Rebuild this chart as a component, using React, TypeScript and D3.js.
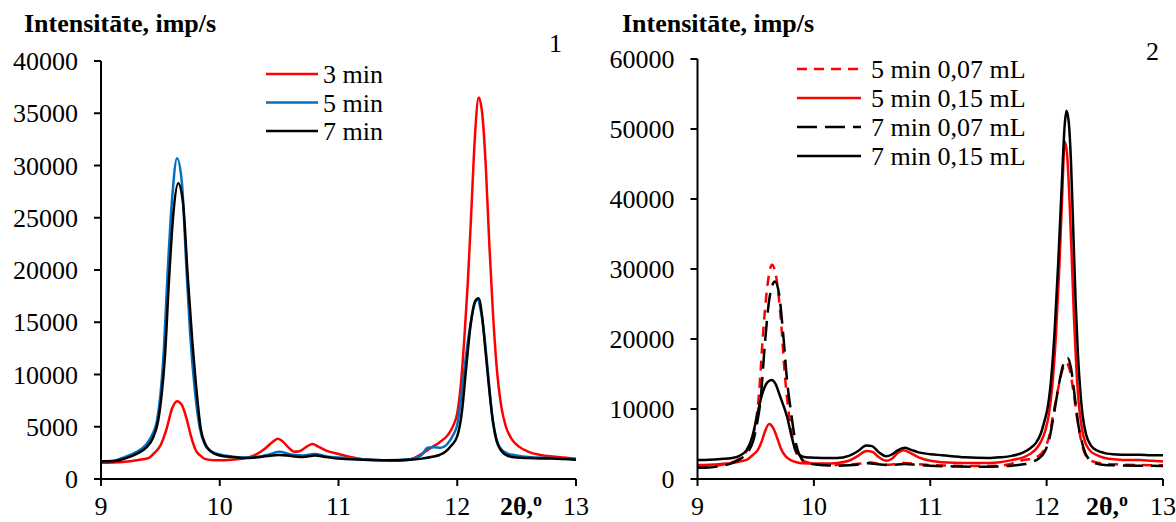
import React from "react";
import * as d3 from "d3";

type P = [number, number];

// Panel 1 series
const p1Red3: P[] = [[9.0,1550],[9.1,1580],[9.2,1650],[9.3,1800],[9.4,2000],[9.45,2500],[9.5,3200],[9.55,4700],[9.6,6800],[9.64,7450],[9.68,7100],[9.72,5800],[9.76,4000],[9.8,2700],[9.83,2300],[9.88,1900],[9.95,1800],[10.0,1800],[10.1,1850],[10.2,1950],[10.3,2300],[10.38,2900],[10.44,3500],[10.49,3850],[10.53,3600],[10.58,3000],[10.63,2600],[10.67,2650],[10.72,3000],[10.78,3350],[10.83,3100],[10.9,2700],[11.0,2400],[11.1,2100],[11.2,1900],[11.35,1800],[11.5,1750],[11.6,1850],[11.7,2400],[11.78,3000],[11.85,3500],[11.92,4200],[11.97,5200],[12.0,6300],[12.03,9000],[12.06,13500],[12.09,19000],[12.12,26000],[12.15,33000],[12.18,36500],[12.21,35000],[12.24,30000],[12.27,22500],[12.3,16000],[12.33,11000],[12.37,7000],[12.41,5000],[12.46,3800],[12.52,3100],[12.6,2600],[12.7,2300],[12.8,2150],[12.9,2050],[13.0,1950]];
const p1Blue5: P[] = [[9.0,1700],[9.1,1750],[9.2,2100],[9.3,2600],[9.38,3300],[9.43,4200],[9.47,5500],[9.5,8000],[9.53,12500],[9.56,19500],[9.6,27000],[9.64,30700],[9.68,28500],[9.72,20000],[9.75,14000],[9.79,8500],[9.83,5000],[9.87,3400],[9.92,2700],[10.0,2350],[10.1,2150],[10.2,2050],[10.3,2100],[10.4,2300],[10.5,2600],[10.6,2350],[10.7,2250],[10.8,2400],[10.9,2150],[11.0,2050],[11.2,1900],[11.4,1800],[11.6,1900],[11.7,2300],[11.75,3000],[11.8,3050],[11.86,3000],[11.92,3400],[11.97,4300],[12.0,5200],[12.03,7500],[12.06,10500],[12.1,14000],[12.14,16500],[12.17,17200],[12.2,16000],[12.23,13500],[12.26,10000],[12.29,6500],[12.32,4300],[12.36,3000],[12.42,2450],[12.5,2250],[12.6,2100],[12.8,2000],[13.0,1900]];
const p1Black7: P[] = [[9.0,1700],[9.1,1700],[9.2,1950],[9.3,2400],[9.38,3000],[9.44,4000],[9.48,5500],[9.51,8000],[9.54,12000],[9.57,18500],[9.61,25500],[9.65,28300],[9.69,26500],[9.73,19500],[9.77,13000],[9.8,9000],[9.84,4800],[9.88,3300],[9.93,2600],[10.0,2250],[10.1,2100],[10.2,2000],[10.3,2050],[10.4,2200],[10.5,2300],[10.6,2200],[10.7,2100],[10.8,2250],[10.9,2100],[11.0,1950],[11.2,1850],[11.4,1800],[11.6,1850],[11.7,1950],[11.8,2150],[11.85,2300],[11.9,2600],[11.95,3200],[12.0,4100],[12.04,6500],[12.07,10000],[12.11,14500],[12.15,17000],[12.18,17300],[12.21,15500],[12.24,12000],[12.27,8500],[12.3,5500],[12.33,3700],[12.37,2700],[12.43,2200],[12.5,2050],[12.6,2000],[12.8,1950],[13.0,1850]];

// Panel 2 series
const p2Red5_007: P[] = [[9.0,1800],[9.1,1850],[9.2,2000],[9.3,2400],[9.38,3200],[9.43,4200],[9.47,5800],[9.5,8000],[9.53,12500],[9.56,20000],[9.6,27500],[9.64,30600],[9.68,28500],[9.72,22000],[9.75,15000],[9.78,10000],[9.82,5500],[9.86,3300],[9.92,2500],[10.0,2200],[10.1,2050],[10.2,2000],[10.3,2050],[10.4,2200],[10.47,2400],[10.55,2200],[10.65,2050],[10.78,2300],[10.9,2100],[11.0,2000],[11.2,1900],[11.4,1850],[11.6,1900],[11.7,2200],[11.8,2700],[11.87,2900],[11.93,3300],[11.98,4200],[12.02,6000],[12.06,9500],[12.1,13000],[12.14,15800],[12.17,16600],[12.2,15500],[12.23,12500],[12.26,9000],[12.29,6000],[12.32,4000],[12.36,2900],[12.42,2400],[12.5,2200],[12.6,2100],[12.8,2000],[13.0,1950]];
const p2Red5_015: P[] = [[9.0,2000],[9.1,2050],[9.2,2150],[9.3,2300],[9.38,2550],[9.43,2800],[9.48,3500],[9.52,4200],[9.55,5300],[9.58,6800],[9.615,7850],[9.65,7300],[9.69,5600],[9.72,4200],[9.76,3200],[9.8,2700],[9.85,2400],[9.9,2250],[10.0,2200],[10.1,2200],[10.2,2300],[10.3,2600],[10.38,3300],[10.45,4000],[10.5,3900],[10.56,3100],[10.62,2600],[10.67,2900],[10.72,3700],[10.77,4100],[10.82,3800],[10.9,3100],[11.0,2600],[11.1,2400],[11.3,2300],[11.5,2300],[11.6,2400],[11.7,2700],[11.8,3100],[11.86,3600],[11.91,4300],[11.95,5300],[11.99,7000],[12.02,9300],[12.05,13500],[12.08,20500],[12.11,30500],[12.135,41000],[12.155,48200],[12.175,46500],[12.195,40500],[12.215,32000],[12.235,23000],[12.255,16000],[12.275,11000],[12.3,7500],[12.33,5300],[12.37,4100],[12.42,3500],[12.5,3000],[12.6,2800],[12.7,2700],[12.8,2700],[12.9,2600],[13.0,2500]];
const p2Black7_007: P[] = [[9.0,1600],[9.1,1650],[9.2,1850],[9.3,2300],[9.38,3000],[9.44,4000],[9.48,5500],[9.51,7800],[9.54,11000],[9.58,19500],[9.62,26000],[9.665,28200],[9.7,26500],[9.74,20000],[9.77,14000],[9.8,10000],[9.84,5500],[9.88,3300],[9.93,2400],[10.0,2100],[10.1,1950],[10.2,1900],[10.3,1950],[10.4,2100],[10.47,2250],[10.55,2100],[10.65,2000],[10.78,2150],[10.9,2000],[11.0,1900],[11.2,1800],[11.4,1750],[11.6,1800],[11.7,1900],[11.8,2100],[11.87,2400],[11.93,2900],[11.98,3800],[12.02,5500],[12.06,9000],[12.1,13000],[12.14,16200],[12.18,17300],[12.21,15800],[12.24,12000],[12.27,8000],[12.3,5500],[12.33,3800],[12.37,2700],[12.43,2200],[12.5,2000],[12.6,1950],[12.8,1900],[13.0,1850]];
const p2Black7_015: P[] = [[9.0,2700],[9.1,2750],[9.2,2850],[9.3,3000],[9.37,3400],[9.42,4100],[9.47,6000],[9.51,8900],[9.55,11800],[9.6,13800],[9.637,14150],[9.67,13600],[9.71,11800],[9.77,8860],[9.81,6000],[9.84,4200],[9.88,3400],[9.93,3100],[10.0,3050],[10.1,3000],[10.2,3000],[10.3,3300],[10.38,4000],[10.45,4800],[10.5,4700],[10.56,3800],[10.62,3250],[10.67,3500],[10.72,4100],[10.78,4450],[10.83,4200],[10.9,3800],[11.0,3550],[11.1,3400],[11.3,3100],[11.5,3000],[11.6,3100],[11.7,3300],[11.8,3800],[11.86,4400],[11.91,5200],[11.95,6500],[11.98,8200],[12.01,10300],[12.04,14500],[12.07,21500],[12.1,31000],[12.13,42000],[12.155,50500],[12.17,52600],[12.19,51000],[12.21,45000],[12.23,35000],[12.25,25000],[12.27,17500],[12.29,12500],[12.31,9000],[12.34,6300],[12.38,4800],[12.43,4100],[12.5,3700],[12.6,3500],[12.7,3450],[12.8,3450],[12.9,3400],[13.0,3400]];

const xTicks = [9, 10, 11, 12, 13];
const y1Ticks = [0, 5000, 10000, 15000, 20000, 25000, 30000, 35000, 40000];
const y2Ticks = [0, 10000, 20000, 30000, 40000, 50000, 60000];
const legend1 = ["3 min", "5 min", "7 min"];
const legend2 = ["5 min 0,07 mL", "5 min 0,15 mL", "7 min 0,07 mL", "7 min 0,15 mL"];

const FONT = "'Liberation Serif', 'Times New Roman', serif";
const RED = "#FF0000";
const BLUE = "#0070C0";
const LW = 2.5;
const FS = 26;
const XLAB_Y = 515;

interface Series { data: P[]; color: string; dash?: string; }

function Panel(props: {
  x0: number; x1: number; yTop: number; yMax: number; yTicks: number[];
  series: Series[]; legend: string[]; legX: number; legY: number; legStep: number; legLen: number; legGap: number;
  title: string; titleX: number; num: string; numX: number; numY: number; thetaX: number;
}) {
  const x = d3.scaleLinear().domain([9, 13]).range([props.x0, props.x1]);
  const y = d3.scaleLinear().domain([0, props.yMax]).range([479, props.yTop]);
  const line = d3.line<P>().x(d => x(d[0])).y(d => y(d[1])).curve(d3.curveMonotoneX);
  const y0 = y(0);
  return (
    <g>
      {props.series.map((s, i) => (
        <path key={i} d={line(s.data) || ""} fill="none" stroke={s.color} strokeWidth={LW}
          strokeDasharray={s.dash} strokeLinejoin="round" />
      ))}
      <line x1={props.x0} x2={props.x0} y1={y0} y2={props.yTop} stroke="#000" strokeWidth={2} />
      <line x1={props.x0} x2={props.x1} y1={y0} y2={y0} stroke="#000" strokeWidth={2} />
      {props.yTicks.map(t => (
        <g key={t}>
          <line x1={props.x0 - 7} x2={props.x0} y1={y(t)} y2={y(t)} stroke="#000" strokeWidth={2} />
          <text x={props.x0 - 23} y={y(t)} dy="0.35em" textAnchor="end" fontSize={FS} fontFamily={FONT}>{t}</text>
        </g>
      ))}
      {xTicks.map(t => (
        <g key={t}>
          <line x1={x(t)} x2={x(t)} y1={y0} y2={y0 + 7} stroke="#000" strokeWidth={2} />
          <text x={x(t)} y={XLAB_Y} textAnchor="middle" fontSize={FS} fontFamily={FONT}>{t}</text>
        </g>
      ))}
      <text x={props.thetaX} y={XLAB_Y} fontSize={FS} fontWeight="bold" fontFamily={FONT}>2θ,<tspan dy={-9} fontSize={18}>o</tspan></text>
      <text x={props.titleX} y={32} fontSize={26} fontWeight="bold" fontFamily={FONT}>{props.title}</text>
      <text x={props.numX} y={props.numY} fontSize={FS} fontFamily={FONT}>{props.num}</text>
      {props.legend.map((l, i) => {
        const ly = props.legY + i * props.legStep;
        const s = props.series[i];
        return (
          <g key={l}>
            <line x1={props.legX} x2={props.legX + props.legLen} y1={ly} y2={ly} stroke={s.color}
              strokeWidth={LW} strokeDasharray={s.dash} />
            <text x={props.legX + props.legLen + props.legGap} y={ly} dy="0.35em" fontSize={FS} fontFamily={FONT}>{l}</text>
          </g>
        );
      })}
    </g>
  );
}

export default function App() {
  const s1: Series[] = [
    { data: p1Red3, color: RED },
    { data: p1Blue5, color: BLUE },
    { data: p1Black7, color: "#000" },
  ];
  const s2: Series[] = [
    { data: p2Red5_007, color: RED, dash: "10,7" },
    { data: p2Red5_015, color: RED },
    { data: p2Black7_007, color: "#000", dash: "20,8" },
    { data: p2Black7_015, color: "#000" },
  ];
  return (
    <svg width={1176} height={522} style={{ position: "absolute", left: 0, top: 0, background: "#fff" }}>
      <rect width={1176} height={522} fill="#fff" />
      <Panel x0={101} x1={576} yTop={61} yMax={40000} yTicks={y1Ticks} series={s1}
        legend={legend1} legX={266} legY={74} legStep={28.5} legLen={52} legGap={5}
        title="Intensitāte, imp/s" titleX={24} num="1" numX={549} numY={52} thetaX={500} />
      <Panel x0={697.5} x1={1163} yTop={59} yMax={60000} yTicks={y2Ticks} series={s2}
        legend={legend2} legX={797} legY={69} legStep={29} legLen={64} legGap={10}
        title="Intensitāte, imp/s" titleX={622} num="2" numX={1146} numY={60} thetaX={1086} />
    </svg>
  );
}
